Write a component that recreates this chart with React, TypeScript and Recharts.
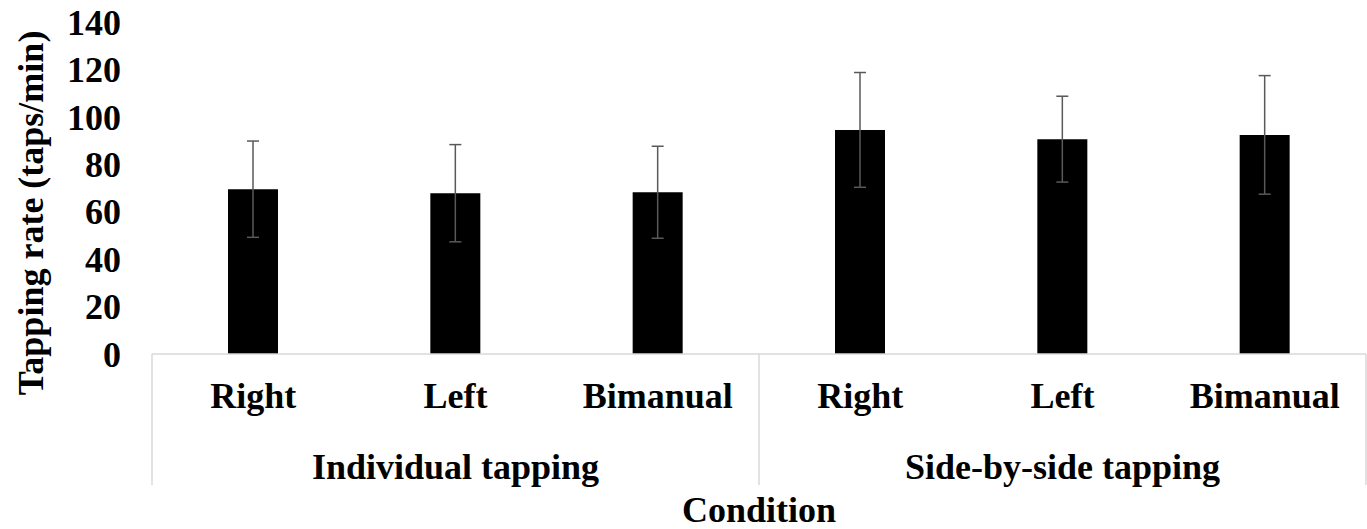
import { Bar, BarChart, ErrorBar, XAxis, YAxis } from "recharts";

// tapping rate per condition (taps/min)
const conditions = ["Right", "Left", "Bimanual", "Right", "Left", "Bimanual"];
const groupIndex = [0, 0, 0, 1, 1, 1];
const groups = ["Individual tapping", "Side-by-side tapping"];
const means = [69.5, 67.8, 68.2, 94.5, 90.6, 92.4];
const sds = [20.3, 20.5, 19.4, 24.2, 18.1, 25.0];
const yTicks = [0, 20, 40, 60, 80, 100, 120, 140];

const data = conditions.map((c, i) => ({
  key: `${groups[groupIndex[i]]}|${c}`,
  mean: means[i],
  err: sds[i],
}));

const W = 1367;
const H = 529;
const TOP = 22;
const LEFT = 152;
const RIGHT = 1;
const PLOT_H = 332;
const PLOT_W = W - LEFT - RIGHT;
const AXIS_Y = TOP + PLOT_H;
const BOX_BOTTOM = 485;
const FONT = "'Liberation Serif', 'Times New Roman', serif";
const GRID = "#d9d9d9";

function CategoryTick(props: any) {
  const { x, index } = props;
  const band = PLOT_W / conditions.length;
  const g = groupIndex[index];
  const first = index === 0 || groupIndex[index - 1] !== g;
  const last = index === conditions.length - 1;
  const members = groupIndex.filter((v) => v === g).length;
  const firstOfGroup = groupIndex.indexOf(g);
  const isMid = index === firstOfGroup + Math.floor(members / 2);
  return (
    <g>
      {first && (
        <line x1={x - band / 2} x2={x - band / 2} y1={AXIS_Y} y2={BOX_BOTTOM} stroke={GRID} strokeWidth={1.5} />
      )}
      {last && (
        <line x1={x + band / 2} x2={x + band / 2} y1={AXIS_Y} y2={BOX_BOTTOM} stroke={GRID} strokeWidth={1.5} />
      )}
      <text x={x} y={408} textAnchor="middle" fontFamily={FONT} fontWeight="bold" fontSize={36} fill="#000">
        {conditions[index]}
      </text>
      {isMid && (
        <text x={x} y={479} textAnchor="middle" fontFamily={FONT} fontWeight="bold" fontSize={36} fill="#000">
          {groups[g]}
        </text>
      )}
    </g>
  );
}

export default function App() {
  return (
    <div style={{ position: "absolute", left: 0, top: 0, background: "#fff" }}>
      <BarChart
        width={W}
        height={H}
        data={data}
        margin={{ top: TOP, right: RIGHT, left: 0, bottom: 0 }}
        barCategoryGap="0%"
      >
        <XAxis
          dataKey="key"
          height={H - AXIS_Y}
          axisLine={{ stroke: GRID, strokeWidth: 1.5 }}
          tickLine={false}
          interval={0}
          tick={<CategoryTick />}
          label={{
            content: () => (
              <text x={LEFT + PLOT_W / 2} y={522} textAnchor="middle" fontFamily={FONT} fontWeight="bold" fontSize={36} fill="#000">
                Condition
              </text>
            ),
          }}
        />
        <YAxis
          width={LEFT}
          domain={[0, 140]}
          ticks={yTicks}
          axisLine={false}
          tickLine={false}
          tickSize={0}
          tickMargin={31}
          tick={{ fontFamily: FONT, fontWeight: "bold", fontSize: 36, fill: "#000" }}
          label={{
            content: () => (
              <text
                x={0}
                y={0}
                transform={`translate(43, 213) rotate(-90)`}
                textAnchor="middle"
                fontFamily={FONT}
                fontWeight="bold"
                fontSize={36}
                fill="#000"
              >
                Tapping rate (taps/min)
              </text>
            ),
          }}
        />
        <Bar dataKey="mean" fill="#000" barSize={50} isAnimationActive={false}>
          <ErrorBar dataKey="err" width={6} stroke="#595959" strokeWidth={1.5} />
        </Bar>
      </BarChart>
    </div>
  );
}
